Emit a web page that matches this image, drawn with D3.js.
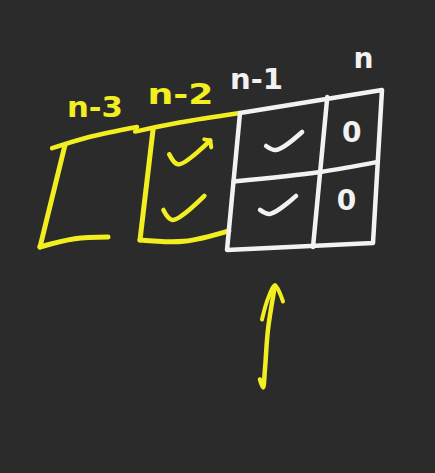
<!DOCTYPE html>
<html><head><meta charset="utf-8">
<script src="https://cdn.jsdelivr.net/npm/d3@7"></script>
<style>html,body{margin:0;padding:0;background:#2b2b2b;overflow:hidden}</style>
</head><body><svg id="c" width="435" height="473"></svg>
<script>
// ---- data ----
const columns = ["n-3", "n-2", "n-1", "n"];
const columnInk = ["yellow", "yellow", "white", "white"];
const rows = [0, 1];
const cellMarks = [
  {col: "n-2", row: 0, mark: "check"},
  {col: "n-2", row: 1, mark: "check"},
  {col: "n-1", row: 0, mark: "check"},
  {col: "n-1", row: 1, mark: "check"},
  {col: "n",   row: 0, mark: "0"},
  {col: "n",   row: 1, mark: "0"}
];
const pointerAt = ["n-1"];

// ---- layout ----
const W = 435, H = 473;
const ink = {yellow: "#f2ee1f", white: "#f2f2f2"};
const edgeDomain = [0, 0.95, 1, 2, 3, 4];
const topX = d3.scaleLinear().domain(edgeDomain).range([65, 137, 153, 240, 327, 382]);
const topY = d3.scaleLinear().domain(edgeDomain).range([145, 127, 130, 113, 100, 90]);
const botX = d3.scaleLinear().domain(edgeDomain).range([40, 108, 140, 227, 313, 373]);
const botY = d3.scaleLinear().domain(edgeDomain).range([247, 237, 240, 250, 247, 243]);
const rowV = d3.scaleOrdinal().domain(rows).range([0.25, 0.7]);
function P(e, v) {
  return [topX(e) + (botX(e) - topX(e)) * v, topY(e) + (botY(e) - topY(e)) * v];
}
const colIndex = c => columns.indexOf(c);
const leftEdge = i => i === 0 ? 0 : i;
const rightEdge = i => i === 0 ? 0.95 : i + 1;
const labelNudge = {"n-3": [-6, -19], "n-2": [-16, -18], "n-1": [-27, -18], "n": [9, -27]};
const labelWidth = {"n-3": 56, "n-2": 66, "n-1": 53, "n": 20};

const svg = d3.select("#c");
svg.append("rect").attr("width", W).attr("height", H).attr("fill", "#2b2b2b");
const g = svg.append("g").attr("fill", "none").attr("stroke-linecap", "round").attr("stroke-linejoin", "round");
const line = d3.line().curve(d3.curveCatmullRom.alpha(0.5));
const straight = d3.line();
function stroke(pts, color, w, curved) {
  g.append("path").attr("d", (curved ? line : straight)(pts))
    .attr("stroke", ink[color]).attr("stroke-width", w || 4.5);
}

// yellow open brackets (n-3, n-2)
columns.forEach((c, i) => {
  const col = columnInk[i];
  const L = leftEdge(i), R = rightEdge(i);
  if (col === "yellow") {
    stroke([P(L - (i === 0 ? 0.17 : 0.06), i === 0 ? 0 : 0.04), P(L + 0.3, -0.02), P(R, 0)], col, 4.5, true);
    stroke([P(L, 0), P(L, 0.5), P(L, 1)], col, 5, true);
    const end = i === 0 ? P(R, 1) : P(R, 0.86);
    stroke([P(L, 1), P((L + R) / 2, 0.97), end], col, 5, true);
  }
});

// white grid (n-1, n)
const wL = leftEdge(colIndex("n-1")), wR = rightEdge(colIndex("n"));
stroke([P(wL, 0), P(wR, 0), P(wR, 1), P(wL, 1), P(wL, 0)], "white", 4.5);
columns.forEach((c, i) => {
  if (columnInk[i] === "white" && leftEdge(i) > wL) stroke([P(leftEdge(i), -0.02), P(leftEdge(i), 1)], "white", 4.5);
});
stroke([P(wL, 0.5), P((wL + wR) / 2, 0.49), P(wR, 0.47)], "white", 4.5, true);

// marks
const checkShape = {
  yellow: [[[-24, 2], [-15, 12], [17, -12]], [[11, -13], [17, -12], [18, -5]]],
  white: [[[-14, 4], [-4, 8], [22, -10]], null]
};
cellMarks.forEach(m => {
  const i = colIndex(m.col);
  const col = columnInk[i];
  const [cx, cy] = P(i + 0.5, rowV(m.row));
  if (m.mark === "check") {
    const sh = checkShape[col];
    stroke(sh[0].map(([dx, dy]) => [cx + dx, cy + dy]), col, 4.5, true);
    if (m.row === 0 && sh[1]) stroke(sh[1].map(([dx, dy]) => [cx + dx, cy + dy]), col, 4, false);
  } else {
    svg.append("text").attr("x", cx).attr("y", cy)
      .attr("text-anchor", "middle").attr("dominant-baseline", "central")
      .attr("font-family", "DejaVu Sans").attr("font-weight", "bold").attr("font-size", 28)
      .attr("fill", ink[col]).text(m.mark);
  }
});

// labels
columns.forEach((c, i) => {
  const [x, y] = P(i + (i === 0 ? 0.475 : 0.5), 0);
  const [dx, dy] = labelNudge[c];
  svg.append("text").attr("x", x + dx).attr("y", y + dy)
    .attr("text-anchor", "middle")
    .attr("font-family", "DejaVu Sans").attr("font-weight", "bold").attr("font-size", 28)
    .attr("textLength", labelWidth[c]).attr("lengthAdjust", "spacingAndGlyphs")
    .attr("fill", ink[columnInk[i]]).text(c);
});

// arrow under pointed column
pointerAt.forEach(c => {
  const i = colIndex(c);
  const [ax, ay] = P(i + 0.5, 1);
  const pt = (dx, dy) => [ax + dx, ay + dy];
  stroke([pt(-10, 131), pt(-7, 139), pt(-5, 120), pt(-2, 81), pt(5, 37)], "yellow", 4.5, true);
  stroke([pt(-8, 71), pt(-2, 50), pt(5, 37), pt(13, 53)], "yellow", 4, true);
});
</script></body></html>
